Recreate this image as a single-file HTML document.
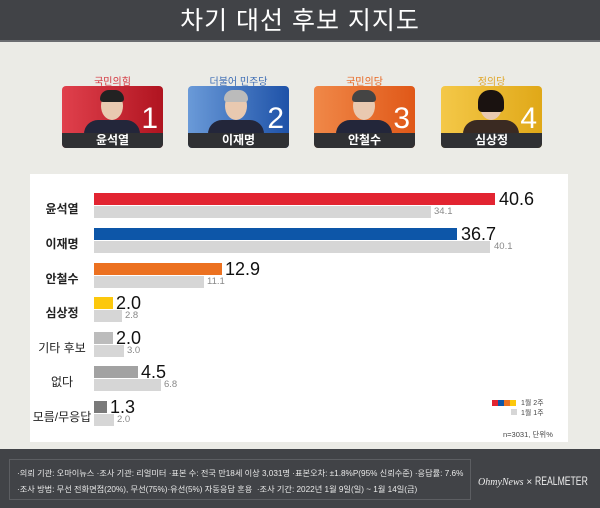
<!DOCTYPE html>
<html><head><meta charset="utf-8"><style>
*{margin:0;padding:0;box-sizing:border-box}
body{width:600px;height:508px;background:#ebebe6;position:relative;overflow:hidden;font-family:"Liberation Sans","Noto Sans CJK KR",sans-serif}
.a{position:absolute}
.title{left:0;top:0;width:600px;height:42px;background:#414347;border-bottom:2px solid #6a6c70;color:#fff;font-size:25px;text-align:center;line-height:42px;letter-spacing:1px}
.party{font-size:10px;width:101px;text-align:center;top:73px}
.card{top:86px;width:101px;height:62px;border-radius:4px;overflow:hidden}
.strip{left:0;bottom:0;width:100%;height:15px;background:#2f3033;color:#fff;font-size:12px;font-weight:bold;text-align:center;line-height:15px}
.num{right:5px;top:18px;color:#fff;font-size:30px;line-height:30px}
.head{width:22px;height:28px;border-radius:50%;background:#e9c9b0;top:6px}
.hair{width:24px;height:12px;border-radius:12px 12px 4px 4px;top:4px;background:#222}
.suit{width:56px;height:14px;border-radius:18px 18px 0 0;top:34px;background:#23263a}
.panel{left:30px;top:174px;width:538px;height:268px;background:#fff}
.lbl{left:30px;width:64px;text-align:center;font-size:12px;color:#222}
.b{height:12px}
.g{background:#d6d6d6}
.v{font-size:18px;color:#111;line-height:18px}
.s{font-size:9.5px;color:#888;line-height:10px}
.foot{left:0;top:449px;width:600px;height:59px;background:#414347}
.fbox{left:9px;top:459px;width:462px;height:41px;border:1px solid #5c5e62}
.ft{color:#e8e8e8;font-size:8.2px;left:17px;white-space:nowrap}
</style></head><body>
<div class="a title">차기 대선 후보 지지도</div>

<div class="a party" style="left:62px;color:#d3333c">국민의힘</div>
<div class="a party" style="left:188px;color:#3c6cb4">더불어 민주당</div>
<div class="a party" style="left:314px;color:#e8641e">국민의당</div>
<div class="a party" style="left:441px;color:#e0a628">정의당</div>

<div class="a card" style="left:62px;background:linear-gradient(90deg,#e0404c,#b01420)">
 <div class="a suit" style="left:22px"></div><div class="a head" style="left:39px"></div><div class="a hair" style="left:38px"></div>
 <div class="a num">1</div><div class="a strip">윤석열</div></div>
<div class="a card" style="left:188px;background:linear-gradient(90deg,#6a9ad8,#1e52a8)">
 <div class="a suit" style="left:20px"></div><div class="a head" style="left:37px"></div><div class="a hair" style="left:36px;background:#bbb"></div>
 <div class="a num">2</div><div class="a strip">이재명</div></div>
<div class="a card" style="left:314px;background:linear-gradient(90deg,#f08848,#e05818)">
 <div class="a suit" style="left:22px"></div><div class="a head" style="left:39px"></div><div class="a hair" style="left:38px;background:#444"></div>
 <div class="a num">3</div><div class="a strip">안철수</div></div>
<div class="a card" style="left:441px;background:linear-gradient(90deg,#f4c848,#e0a818)">
 <div class="a suit" style="left:22px;background:#3a2a22"></div><div class="a head" style="left:39px"></div><div class="a hair" style="left:37px;height:22px;width:26px;background:#1a1210"></div>
 <div class="a num">4</div><div class="a strip">심상정</div></div>

<div class="a panel"></div>

<div class="a lbl" style="top:200px;font-weight:bold">윤석열</div>
<div class="a b" style="left:94px;top:193px;width:401px;background:#e22431"></div>
<div class="a b g" style="left:94px;top:206px;width:337px"></div>
<div class="a v" style="left:499px;top:190px">40.6</div>
<div class="a s" style="left:434px;top:207px">34.1</div>

<div class="a lbl" style="top:235px;font-weight:bold">이재명</div>
<div class="a b" style="left:94px;top:228px;width:363px;background:#0d56a8"></div>
<div class="a b g" style="left:94px;top:241px;width:396px"></div>
<div class="a v" style="left:461px;top:225px">36.7</div>
<div class="a s" style="left:494px;top:242px">40.1</div>

<div class="a lbl" style="top:270px;font-weight:bold">안철수</div>
<div class="a b" style="left:94px;top:263px;width:128px;background:#ec7120"></div>
<div class="a b g" style="left:94px;top:276px;width:110px"></div>
<div class="a v" style="left:225px;top:260px">12.9</div>
<div class="a s" style="left:207px;top:277px">11.1</div>

<div class="a lbl" style="top:304px;font-weight:bold">심상정</div>
<div class="a b" style="left:94px;top:297px;width:19px;background:#fcc80c"></div>
<div class="a b g" style="left:94px;top:310px;width:28px"></div>
<div class="a v" style="left:116px;top:294px">2.0</div>
<div class="a s" style="left:125px;top:311px">2.8</div>

<div class="a lbl" style="top:339px">기타 후보</div>
<div class="a b" style="left:94px;top:332px;width:19px;background:#bcbcbc"></div>
<div class="a b g" style="left:94px;top:345px;width:30px"></div>
<div class="a v" style="left:116px;top:329px">2.0</div>
<div class="a s" style="left:127px;top:346px">3.0</div>

<div class="a lbl" style="top:373px">없다</div>
<div class="a b" style="left:94px;top:366px;width:44px;background:#a2a2a2"></div>
<div class="a b g" style="left:94px;top:379px;width:67px"></div>
<div class="a v" style="left:141px;top:363px">4.5</div>
<div class="a s" style="left:164px;top:380px">6.8</div>

<div class="a lbl" style="top:408px">모름/무응답</div>
<div class="a b" style="left:94px;top:401px;width:13px;background:#7a7a7a"></div>
<div class="a b g" style="left:94px;top:414px;width:20px"></div>
<div class="a v" style="left:110px;top:398px">1.3</div>
<div class="a s" style="left:117px;top:415px">2.0</div>

<div class="a" style="left:492px;top:400px;width:24px;height:6px;background:linear-gradient(90deg,#e22431 0 25%,#0d56a8 25% 50%,#ec7120 50% 75%,#fcc80c 75%)"></div>
<div class="a" style="left:521px;top:398px;font-size:7px;color:#444">1월 2주</div>
<div class="a" style="left:511px;top:409px;width:6px;height:6px;background:#d6d6d6"></div>
<div class="a" style="left:521px;top:408px;font-size:7px;color:#444">1월 1주</div>
<div class="a" style="left:503px;top:429px;font-size:7.5px;color:#444">n=3031, 단위%</div>

<div class="a foot"></div>
<div class="a fbox"></div>
<div class="a ft" style="top:467px">·의뢰 기관: 오마이뉴스 ·조사 기관: 리얼미터 ·표본 수: 전국 만18세 이상 3,031명 ·표본오차: ±1.8%P(95% 신뢰수준) ·응답률: 7.6%</div>
<div class="a ft" style="top:483px">·조사 방법: 무선 전화면접(20%), 무선(75%)·유선(5%) 자동응답 혼용 &nbsp;·조사 기간: 2022년 1월 9일(일) ~ 1월 14일(금)</div>
<div class="a" style="left:478px;top:474px;color:#eee;font-size:10px;white-space:nowrap"><i style="font-family:'Liberation Serif',serif">OhmyNews</i> × <span style="display:inline-block;font-size:12px;transform:scaleX(0.72);transform-origin:left;letter-spacing:0">REALMETER</span></div>
</body></html>
